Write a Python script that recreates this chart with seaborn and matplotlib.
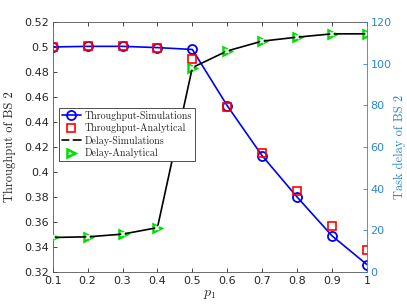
import matplotlib
matplotlib.use("Agg")
import matplotlib.pyplot as plt
import seaborn as sns

# values
p1 = [0.1, 0.2, 0.3, 0.4, 0.5, 0.6, 0.7, 0.8, 0.9, 1.0]
thr_sim = [0.500, 0.5005, 0.5005, 0.4995, 0.498, 0.453, 0.413, 0.380, 0.349, 0.326]
thr_ana = [0.500, 0.5005, 0.5005, 0.4995, 0.4904, 0.452, 0.4155, 0.3846, 0.3568, 0.3374]
delay_sim = [16.6, 16.9, 18.2, 21.3, 98.1, 106.1, 110.8, 112.7, 114.3, 114.3]
delay_ana = [16.6, 16.9, 18.2, 21.3, 98.1, 106.1, 110.8, 112.7, 114.3, 114.3]

sns.set_style("ticks")
plt.rcParams["mathtext.fontset"] = "cm"
plt.rcParams["xtick.direction"] = "in"
plt.rcParams["ytick.direction"] = "in"
plt.rcParams["axes.unicode_minus"] = False

right_col = "#2a86d1"

fig = plt.figure(figsize=(4.07, 3.05), dpi=100)
ax = fig.add_axes([0.1295, 0.108, 0.772, 0.820])
ax2 = ax.twinx()

sns.lineplot(x=p1, y=thr_sim, ax=ax, color="blue", marker="o", markersize=6.5,
             markerfacecolor="none", markeredgecolor="blue", markeredgewidth=1.3,
             linewidth=1.2, label="Throughput-Simulations", legend=False)
sns.lineplot(x=p1, y=thr_ana, ax=ax, color="red", linestyle="", marker="s", markersize=6,
             markerfacecolor="none", markeredgecolor="red", markeredgewidth=1.2,
             label="Throughput-Analytical", legend=False)

sns.lineplot(x=p1, y=delay_ana, ax=ax2, color="#00dd00", linestyle="", marker=">", markersize=5.5,
             markerfacecolor="none", markeredgecolor="#00dd00", markeredgewidth=1.8,
             label="Delay-Analytical", legend=False)
sns.lineplot(x=p1, y=delay_sim, ax=ax2, color="black", marker="x", markersize=3,
             markeredgewidth=1.2, linewidth=1.2, label="Delay-Simulations", legend=False)

ax.set_xlim(0.1, 1.0)
ax.set_ylim(0.32, 0.52)
ax.set_xticks(p1)
ax.set_xticklabels(["0.1", "0.2", "0.3", "0.4", "0.5", "0.6", "0.7", "0.8", "0.9", "1"])
ax.set_yticks([0.32, 0.34, 0.36, 0.38, 0.4, 0.42, 0.44, 0.46, 0.48, 0.5, 0.52])
ax.set_yticklabels(["0.32", "0.34", "0.36", "0.38", "0.4", "0.42", "0.44", "0.46",
                    "0.48", "0.5", "0.52"])
ax2.set_ylim(0, 120)
ax2.set_yticks([0, 20, 40, 60, 80, 100, 120])

ax.tick_params(axis="both", labelsize=8, colors="#262626", length=3, width=0.6, top=True, pad=2.5)
ax.tick_params(axis="y", right=False)
ax2.tick_params(axis="y", labelsize=8, colors=right_col, length=3, width=0.6, pad=2.5)
for s in ["left", "bottom", "top"]:
    ax.spines[s].set_color("#555555")
    ax.spines[s].set_linewidth(0.6)
ax2.spines["right"].set_color(right_col)
ax2.spines["right"].set_linewidth(0.6)
for s in ["left", "bottom", "top"]:
    ax2.spines[s].set_visible(False)
ax.spines["right"].set_visible(False)

ax.set_xlabel(r"$p_1$", fontsize=10, labelpad=1)
ax.set_ylabel("Throughput of BS 2", fontsize=9, family="cmr10", labelpad=6)
ax2.set_ylabel("Task delay of BS 2", fontsize=9, family="cmr10", color=right_col, labelpad=1)

h1, l1 = ax.get_legend_handles_labels()
h2, l2 = ax2.get_legend_handles_labels()
handles = h1 + [h2[1], h2[0]]
labels = l1 + [l2[1], l2[0]]
leg = ax2.legend(handles, labels, loc="upper left", bbox_to_anchor=(0.019, 0.656),
                 prop={"family": "cmr10", "size": 7.2}, frameon=True, fancybox=False,
                 edgecolor="#333333", framealpha=1, borderpad=0.3, labelspacing=0.25,
                 handlelength=1.9, handletextpad=0.4, borderaxespad=0)
leg.get_frame().set_linewidth(0.6)

fig.savefig("out.png", dpi=100)
